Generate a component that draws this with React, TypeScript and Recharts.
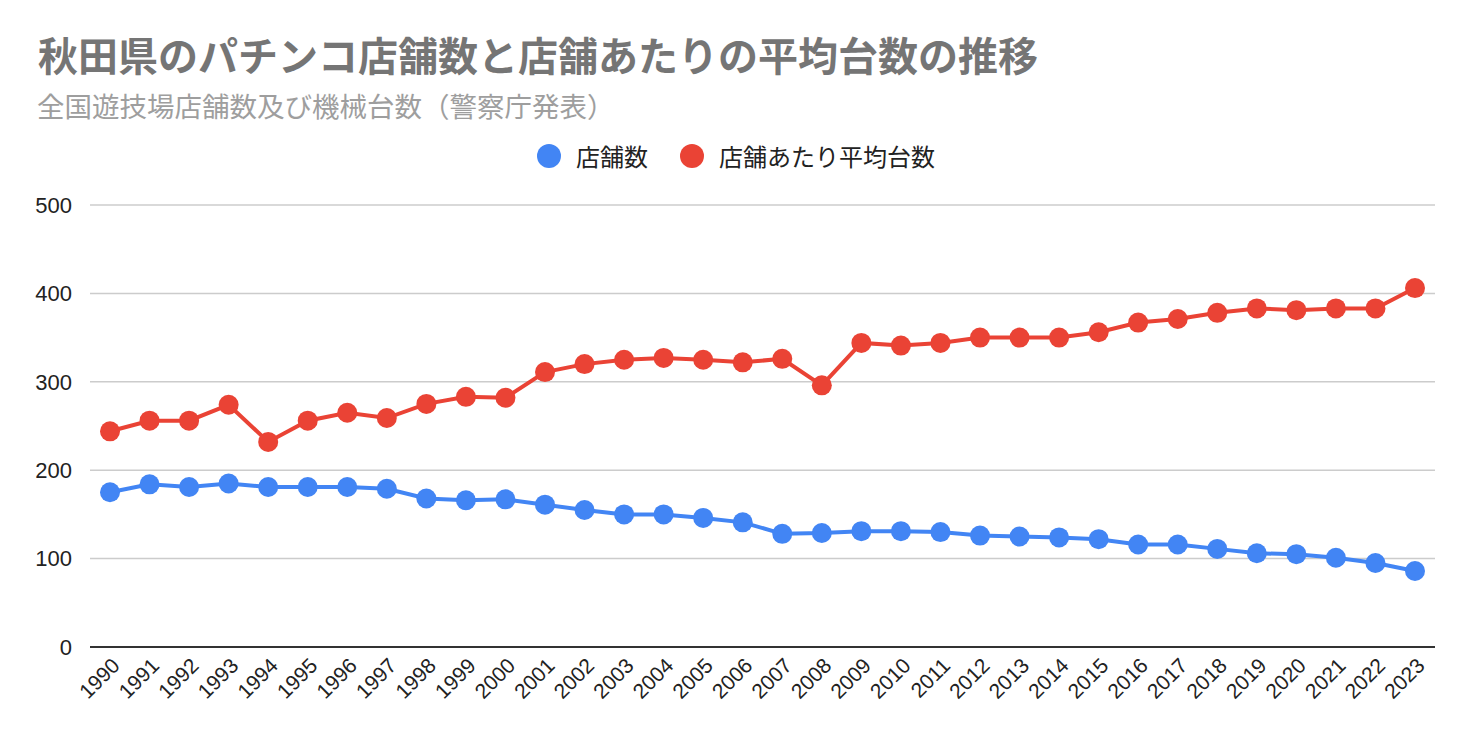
import React from "react";
import { LineChart, Line, XAxis, YAxis, CartesianGrid } from "recharts";

const years = [
  "1990", "1991", "1992", "1993", "1994", "1995", "1996", "1997", "1998", "1999",
  "2000", "2001", "2002", "2003", "2004", "2005", "2006", "2007", "2008", "2009",
  "2010", "2011", "2012", "2013", "2014", "2015", "2016", "2017", "2018", "2019",
  "2020", "2021", "2022", "2023",
];
const storeCounts = [
  175, 184, 181, 185, 181, 181, 181, 179, 168, 166,
  167, 161, 155, 150, 150, 146, 141, 128, 129, 131,
  131, 130, 126, 125, 124, 122, 116, 116, 111, 106,
  105, 101, 95, 86,
];
const avgMachines = [
  244, 256, 256, 274, 232, 256, 265, 259, 275, 283,
  282, 311, 320, 325, 327, 325, 322, 326, 296, 344,
  341, 344, 350, 350, 350, 356, 367, 371, 378, 383,
  381, 383, 383, 406,
];
const yTicks = [0, 100, 200, 300, 400, 500];

const seriesNames = ["店舗数", "店舗あたり平均台数"];
const colors = ["#4285F4", "#EA4335"];

const data = years.map((y, i) => ({
  year: y,
  stores: storeCounts[i],
  avg: avgMachines[i],
}));

const NUMFONT = "'Liberation Sans', Arial, sans-serif";
const JPFONT = "'Noto Sans CJK JP', sans-serif";

const XTick = (props: any) => {
  const { x, y, payload } = props;
  return (
    <g transform={`translate(${x + 11},${y + 12})`}>
      <text
        x={0}
        y={0}
        textAnchor="end"
        transform="rotate(-45)"
        fontSize={21}
        fill="#222"
        fontFamily={NUMFONT}
      >
        {payload.value}
      </text>
    </g>
  );
};

export default function App() {
  return (
    <div
      style={{
        position: "absolute",
        left: 0,
        top: 0,
        width: 1472,
        height: 742,
        background: "#fff",
        fontFamily: JPFONT,
      }}
    >
      <div
        style={{
          position: "absolute",
          left: 38,
          top: 27,
          fontSize: 40,
          fontWeight: 700,
          color: "#757575",
          whiteSpace: "nowrap",
          fontFamily: JPFONT,
          lineHeight: "54px",
        }}
      >
        秋田県のパチンコ店舗数と店舗あたりの平均台数の推移
      </div>
      <div
        style={{
          position: "absolute",
          left: 37,
          top: 86,
          fontSize: 27.5,
          color: "#9e9e9e",
          whiteSpace: "nowrap",
          fontFamily: JPFONT,
          lineHeight: "38px",
        }}
      >
        全国遊技場店舗数及び機械台数（警察庁発表）
      </div>
      <div
        style={{
          position: "absolute",
          left: 0,
          top: 139,
          width: 1472,
          display: "flex",
          justifyContent: "center",
          alignItems: "center",
          fontSize: 24,
          color: "#222",
          fontFamily: JPFONT,
          lineHeight: "34px",
        }}
      >
        {seriesNames.map((n, i) => (
          <div
            key={n}
            style={{ display: "flex", alignItems: "center", marginLeft: i ? 32 : 0 }}
          >
            <span
              style={{
                display: "inline-block",
                width: 24,
                height: 24,
                borderRadius: 12,
                background: colors[i],
                marginRight: 15,
              }}
            />
            <span>{n}</span>
          </div>
        ))}
      </div>
      <div style={{ position: "absolute", left: 0, top: 0 }}>
        <LineChart
          width={1472}
          height={742}
          data={data}
          margin={{ top: 205, right: 37, bottom: 15, left: 20 }}
        >
          <CartesianGrid vertical={false} stroke="#cccccc" strokeWidth={1.5} />
          <XAxis
            dataKey="year"
            tick={<XTick />}
            tickLine={false}
            axisLine={{ stroke: "#333", strokeWidth: 2 }}
            interval={0}
            height={80}
            padding={{ left: 20, right: 20 }}
          />
          <YAxis
            domain={[0, 500]}
            ticks={yTicks}
            width={70}
            axisLine={false}
            tickLine={false}
            tick={{ fontSize: 22, fill: "#222", fontFamily: NUMFONT }}
            tickMargin={12}
          />
          <Line
            type="linear"
            dataKey="stores"
            name={seriesNames[0]}
            stroke={colors[0]}
            strokeWidth={4}
            dot={{ r: 10, fill: colors[0], stroke: colors[0], strokeWidth: 0 }}
            activeDot={false}
            isAnimationActive={false}
          />
          <Line
            type="linear"
            dataKey="avg"
            name={seriesNames[1]}
            stroke={colors[1]}
            strokeWidth={4}
            dot={{ r: 10, fill: colors[1], stroke: colors[1], strokeWidth: 0 }}
            activeDot={false}
            isAnimationActive={false}
          />
        </LineChart>
      </div>
    </div>
  );
}
